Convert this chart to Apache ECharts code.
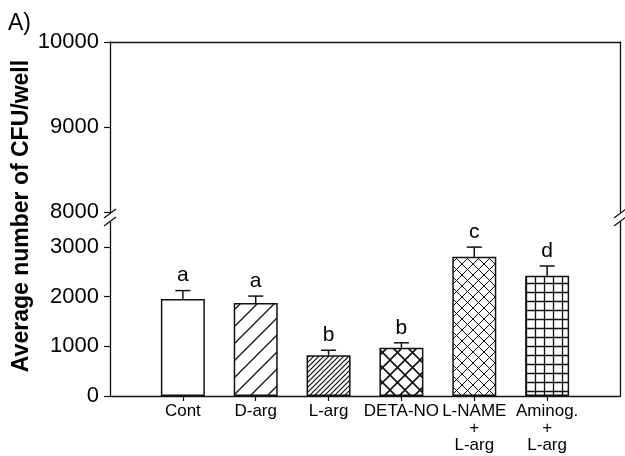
<!DOCTYPE html>
<html>
<head>
<meta charset="utf-8">
<script src="https://cdn.jsdelivr.net/npm/echarts@6/dist/echarts.min.js"></script>
<style>
html,body{margin:0;padding:0;background:#fff;}
#chart{width:625px;height:456px;}
</style>
</head>
<body>
<div id="chart"></div>
<script>
// ---- data ----
const categories = ['Cont', 'D-arg', 'L-arg', 'DETA-NO', 'L-NAME\n+\nL-arg', 'Aminog.\n+\nL-arg'];
const means = [1950, 1870, 820, 970, 2800, 2420];
const errors = [170, 140, 100, 100, 195, 195];
const letters = ['a', 'a', 'b', 'b', 'c', 'd'];
const lowerTicks = [0, 1000, 2000, 3000];
const upperTicks = [8000, 9000, 10000];
const patterns = ['none', 'sparseDiag', 'denseDiag', 'coarseCross', 'fineCross', 'grid'];

// ---- layout ----
const L = 110, R = 5;
const upTop = 42, upH = 170;
const loTop = 222, loH = 174;
const FONT = '"Liberation Sans", Arial, Helvetica, sans-serif';

function makePattern(kind) {
  const c = document.createElement('canvas');
  let s = 10;
  if (kind === 'none') { s = 4; }
  else if (kind === 'sparseDiag') s = 17;
  else if (kind === 'denseDiag') s = 5;
  else if (kind === 'coarseCross') s = 15;
  else if (kind === 'fineCross') s = 11;
  else if (kind === 'grid') s = 9;
  c.width = s; c.height = s;
  const g = c.getContext('2d');
  g.fillStyle = '#fff'; g.fillRect(0, 0, s, s);
  g.strokeStyle = '#111';
  function slash() {
    g.beginPath();
    g.moveTo(0, s); g.lineTo(s, 0);
    g.moveTo(-2, 2); g.lineTo(2, -2);
    g.moveTo(s - 2, s + 2); g.lineTo(s + 2, s - 2);
    g.stroke();
  }
  function back() {
    g.beginPath();
    g.moveTo(0, 0); g.lineTo(s, s);
    g.moveTo(-2, s - 2); g.lineTo(2, s + 2);
    g.moveTo(s - 2, -2); g.lineTo(s + 2, 2);
    g.stroke();
  }
  if (kind === 'sparseDiag') { g.lineWidth = 1.3; slash(); }
  else if (kind === 'denseDiag') { g.lineWidth = 1.2; slash(); }
  else if (kind === 'coarseCross') { g.lineWidth = 1.6; slash(); back(); }
  else if (kind === 'fineCross') { g.lineWidth = 1.0; slash(); back(); }
  else if (kind === 'grid') {
    g.lineWidth = 1.3;
    g.beginPath();
    g.moveTo(s / 2, 0); g.lineTo(s / 2, s);
    g.moveTo(0, s / 2); g.lineTo(s, s / 2);
    g.stroke();
  }
  if (kind === 'none') return '#fff';
  return { image: c, repeat: 'repeat' };
}

const xs = categories.map((_, i) => i + 1);
const barData = means.map((v, i) => ({
  value: [xs[i], v],
  itemStyle: { color: makePattern(patterns[i]) }
}));
const errData = means.map((v, i) => [xs[i], v, v + errors[i], letters[i]]);

const chart = echarts.init(document.getElementById('chart'), null, { renderer: 'canvas' });

const labelStyle = { color: '#000', fontFamily: FONT };

// break marks
const breaks = [];
[L, 625 - R].forEach(x => {
  [upTop + upH + 1, loTop - 1].forEach(y => {
    breaks.push({
      type: 'line',
      shape: { x1: x - 6, y1: y + 5, x2: x + 6, y2: y - 4 },
      style: { stroke: '#111', lineWidth: 1.3 }
    });
  });
});

const option = {
  backgroundColor: '#fff',
  animation: false,
  grid: [
    { left: L, right: R, top: upTop, height: upH },
    { left: L, right: R, top: loTop, height: loH }
  ],
  xAxis: [
    { gridIndex: 0, type: 'value', min: 0, max: 7, position: 'top',
      axisLine: { show: true, lineStyle: { color: '#111', width: 1.3 } },
      axisTick: { show: false }, axisLabel: { show: false }, splitLine: { show: false } },
    { gridIndex: 1, type: 'value', min: 0, max: 7, interval: 1, position: 'bottom',
      axisLine: { show: true, onZero: false, lineStyle: { color: '#111', width: 1.3 } },
      axisTick: { show: true, length: 5, customValues: xs, lineStyle: { color: '#111', width: 1.2 } },
      axisLabel: { show: true, customValues: xs, margin: 7, fontSize: 17, lineHeight: 17,
        ...labelStyle, formatter: v => categories[Math.round(v) - 1] || '' },
      splitLine: { show: false } }
  ],
  yAxis: [
    { gridIndex: 0, type: 'value', min: 8000, max: 10000, interval: 1000, position: 'left',
      axisLine: { show: true, lineStyle: { color: '#111', width: 1.3 } },
      axisTick: { show: true, length: 6, customValues: upperTicks, lineStyle: { color: '#111', width: 1.2 } },
      axisLabel: { fontSize: 22, margin: 11, customValues: upperTicks, ...labelStyle,
        formatter: v => String(v) },
      splitLine: { show: false } },
    { gridIndex: 1, type: 'value', min: 0, max: 3500, interval: 1000, position: 'left',
      axisLine: { show: true, onZero: false, lineStyle: { color: '#111', width: 1.3 } },
      axisTick: { show: true, length: 6, customValues: lowerTicks, lineStyle: { color: '#111', width: 1.2 } },
      axisLabel: { fontSize: 22, margin: 11, customValues: lowerTicks, ...labelStyle,
        formatter: v => String(v) },
      splitLine: { show: false } },
    { gridIndex: 0, type: 'value', min: 8000, max: 10000, position: 'right',
      axisLine: { show: true, lineStyle: { color: '#111', width: 1.3 } },
      axisTick: { show: false }, axisLabel: { show: false }, splitLine: { show: false } },
    { gridIndex: 1, type: 'value', min: 0, max: 3500, position: 'right',
      axisLine: { show: true, onZero: false, lineStyle: { color: '#111', width: 1.3 } },
      axisTick: { show: false }, axisLabel: { show: false }, splitLine: { show: false } }
  ],
  graphic: breaks.concat([
    { type: 'text', left: 8, top: 12,
      style: { text: 'A)', fontSize: 23, fill: '#000', fontFamily: FONT } },
    { type: 'text', x: 22, y: 216, rotation: Math.PI / 2,
      style: { text: 'Average number of CFU/well', fontSize: 23, fontWeight: 'bold',
        fill: '#000', fontFamily: FONT, align: 'center', verticalAlign: 'middle' } }
  ]),
  series: [
    { type: 'bar', xAxisIndex: 1, yAxisIndex: 1, barWidth: 44, data: barData,
      itemStyle: { borderColor: '#111', borderWidth: 1.5 } },
    { type: 'custom', xAxisIndex: 1, yAxisIndex: 1, data: errData, z: 5,
      renderItem: function (params, api) {
        const x = api.value(0);
        const p0 = api.coord([x, api.value(1)]);
        const p1 = api.coord([x, api.value(2)]);
        const half = 7.5;
        return {
          type: 'group',
          children: [
            { type: 'line', shape: { x1: p0[0], y1: p0[1], x2: p1[0], y2: p1[1] },
              style: { stroke: '#111', lineWidth: 1.5 } },
            { type: 'line', shape: { x1: p1[0] - half, y1: p1[1], x2: p1[0] + half, y2: p1[1] },
              style: { stroke: '#111', lineWidth: 1.5 } },
            { type: 'text', x: p1[0], y: p1[1] - 15,
              style: { text: api.value(3), fontSize: 21, fill: '#000', fontFamily: FONT,
                align: 'center', verticalAlign: 'middle' } }
          ]
        };
      },
      encode: { x: 0, y: 2 }
    }
  ]
};
chart.setOption(option);
</script>
</body>
</html>
